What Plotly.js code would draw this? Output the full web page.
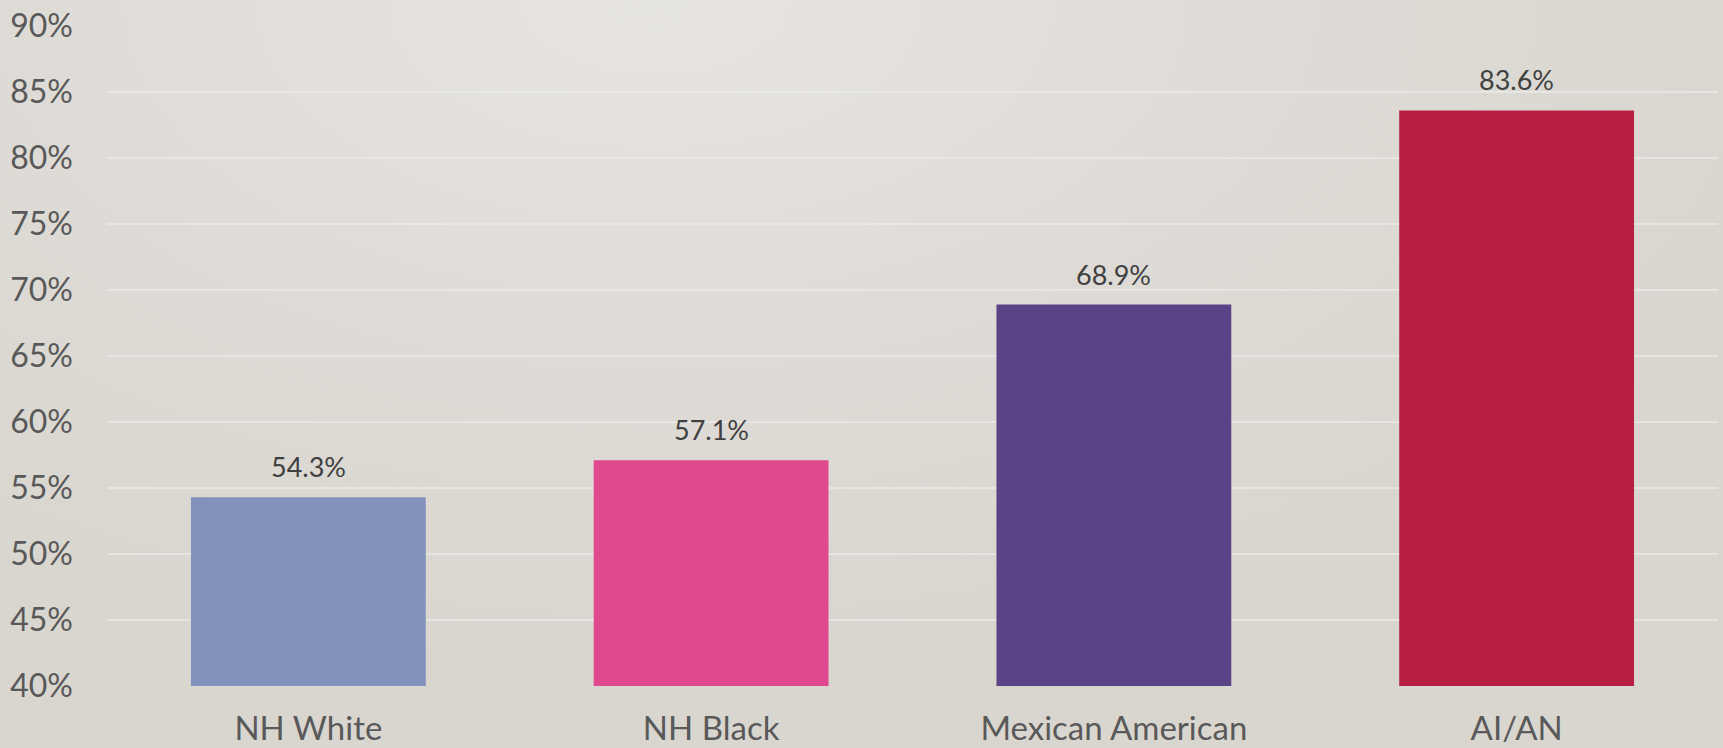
<!DOCTYPE html>
<html>
<head>
<meta charset="utf-8">
<script src="https://cdn.plot.ly/plotly-3.0.1.min.js"></script>
<style>
  html, body { margin: 0; padding: 0; }
  body {
    width: 1723px; height: 748px; overflow: hidden;
    background: radial-gradient(ellipse 70% 90% at 38% 0%, #e7e5e1 0%, #dedbd6 55%, #d9d6d0 100%);
  }
  #chart { width: 1723px; height: 748px; }
</style>
</head>
<body>
<div id="chart"></div>
<script>
// Share of each group (percent)
const categories = ["NH White", "NH Black", "Mexican American", "AI/AN"];
const values = [54.3, 57.1, 68.9, 83.6];
const barColors = ["#8392bd", "#e0498d", "#5a4487", "#b81e42"];
const tickValues = [40, 45, 50, 55, 60, 65, 70, 75, 80, 85, 90];
const tickLabels = tickValues.map(v => v + "%");

const FONT = "Lato, 'Open Sans', sans-serif";

const trace = {
  type: "bar",
  x: categories,
  y: values,
  base: 0,
  marker: { color: barColors, line: { width: 0 } },
  hoverinfo: "x+y"
};

const annotations = categories.map((c, i) => ({
  x: c,
  y: values[i],
  xref: "x",
  yref: "y",
  text: values[i].toFixed(1) + "%",
  showarrow: false,
  yanchor: "bottom",
  yshift: 12,
  font: { family: FONT, size: 27, color: "#404040" }
}));

const layout = {
  width: 1723,
  height: 748,
  margin: { l: 107, r: 5, t: 26, b: 62, pad: 0 },
  paper_bgcolor: "rgba(0,0,0,0)",
  plot_bgcolor: "rgba(0,0,0,0)",
  showlegend: false,
  bargap: 0.417,
  xaxis: {
    type: "category",
    showgrid: false,
    zeroline: false,
    showline: false,
    ticks: "",
    tickfont: { family: FONT, size: 33, color: "#595959" },
    ticklabelstandoff: 20
  },
  yaxis: {
    range: [40, 90],
    tickmode: "array",
    tickvals: tickValues,
    ticktext: tickLabels,
    showgrid: true,
    gridcolor: "rgba(234,234,232,0.75)",
    gridwidth: 1.5,
    zeroline: false,
    showline: false,
    ticks: "",
    tickfont: { family: FONT, size: 32, color: "#595959" },
    ticklabelstandoff: 33
  },
  annotations: annotations
};

Plotly.newPlot("chart", [trace], layout, { displayModeBar: false, staticPlot: true });
</script>
</body>
</html>
